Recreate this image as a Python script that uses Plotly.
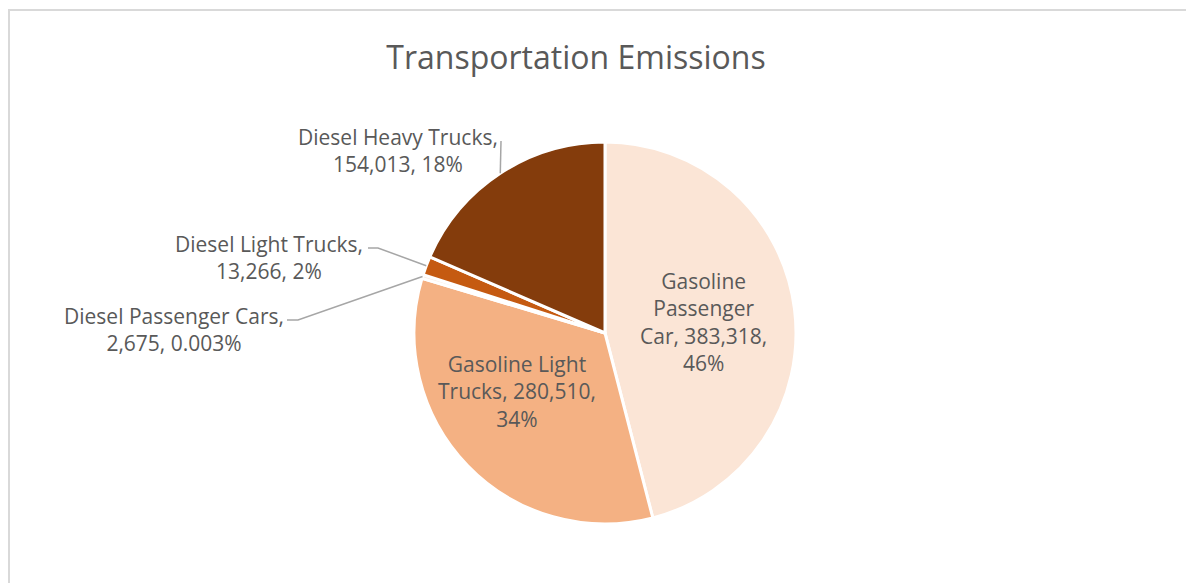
import textwrap
import numpy as np
import plotly.graph_objects as go

# data
categories = ["Gasoline Passenger Car", "Gasoline Light Trucks", "Diesel Passenger Cars",
              "Diesel Light Trucks", "Diesel Heavy Trucks"]
emissions = [383318, 280510, 2675, 13266, 154013]
pct_labels = ["46%", "34%", "0.003%", "2%", "18%"]  # as printed on the original

colors = ["#FBE5D6", "#F4B183", "#FCEEE4", "#C55A11", "#843C0C"]

# page body has an 8px margin, so the figure is shrunk and everything shifted by it
OFF = 8
W, H = 1194 - OFF, 583 - OFF
cx, cy, R = 605, 333, 191  # pie centre / radius in screen px

# label layout (screen px): text centre, wrap width, leader path end points (None = inside label)
label_pos = [(703, 322), (517, 391), (174, 329), (269, 257), (398, 151)]
wrap_w = [13, 16, 22, 20, 20]
leader_to = [None, None, [(298, 320), (287, 320)], [(378, 248), (368, 248)], [(501, 141)]]

def px(x, y):
    return (x - OFF) / W, 1 - (y - OFF) / H

fig = go.Figure(go.Pie(
    labels=categories, values=emissions, sort=False, direction="clockwise", rotation=0,
    marker=dict(colors=colors, line=dict(color="white", width=3)),
    textinfo="none", hoverinfo="label+value+percent", showlegend=False,
    domain=dict(x=[px(cx - R, 0)[0], px(cx + R, 0)[0]], y=[px(0, cy + R)[1], px(0, cy - R)[1]]),
))

vals = np.array(emissions, dtype=float)
frac = vals / vals.sum()
mids = (np.cumsum(frac) - frac / 2) * 2 * np.pi

annotations = []
shapes = []
for i, name in enumerate(categories):
    txt = f"{name}, {emissions[i]:,}, {pct_labels[i]}"
    txt = "<br>".join(textwrap.wrap(txt, wrap_w[i]))
    lx, ly = px(*label_pos[i])
    annotations.append(dict(x=lx, y=ly, xref="paper", yref="paper", text=txt, showarrow=False,
                            xanchor="center", yanchor="middle", align="center",
                            font=dict(size=21, color="#595959", family="Open Sans")))
    if leader_to[i]:
        ex = cx + R * np.sin(mids[i])
        ey = cy - R * np.cos(mids[i])
        pts = [(ex, ey)] + leader_to[i]
        path = "M " + " L ".join(f"{px(a, b)[0]},{px(a, b)[1]}" for a, b in pts)
        shapes.append(dict(type="path", path=path, xref="paper", yref="paper",
                           line=dict(color="#A6A6A6", width=1.5)))

# chart area border
shapes.append(dict(type="rect", xref="paper", yref="paper", x0=px(9, 0)[0], x1=1.02,
                   y0=-0.02, y1=px(0, 10)[1], line=dict(color="#D9D9D9", width=2)))

fig.update_layout(
    width=W, height=H,
    margin=dict(l=0, r=0, t=0, b=0),
    paper_bgcolor="white", plot_bgcolor="white",
    title=dict(text="Transportation Emissions", x=px(576, 0)[0], xanchor="center",
               y=px(0, 58)[1], yanchor="middle",
               font=dict(size=32, color="#595959", family="Open Sans")),
    annotations=annotations, shapes=shapes,
)

fig.write_html("out.html")
